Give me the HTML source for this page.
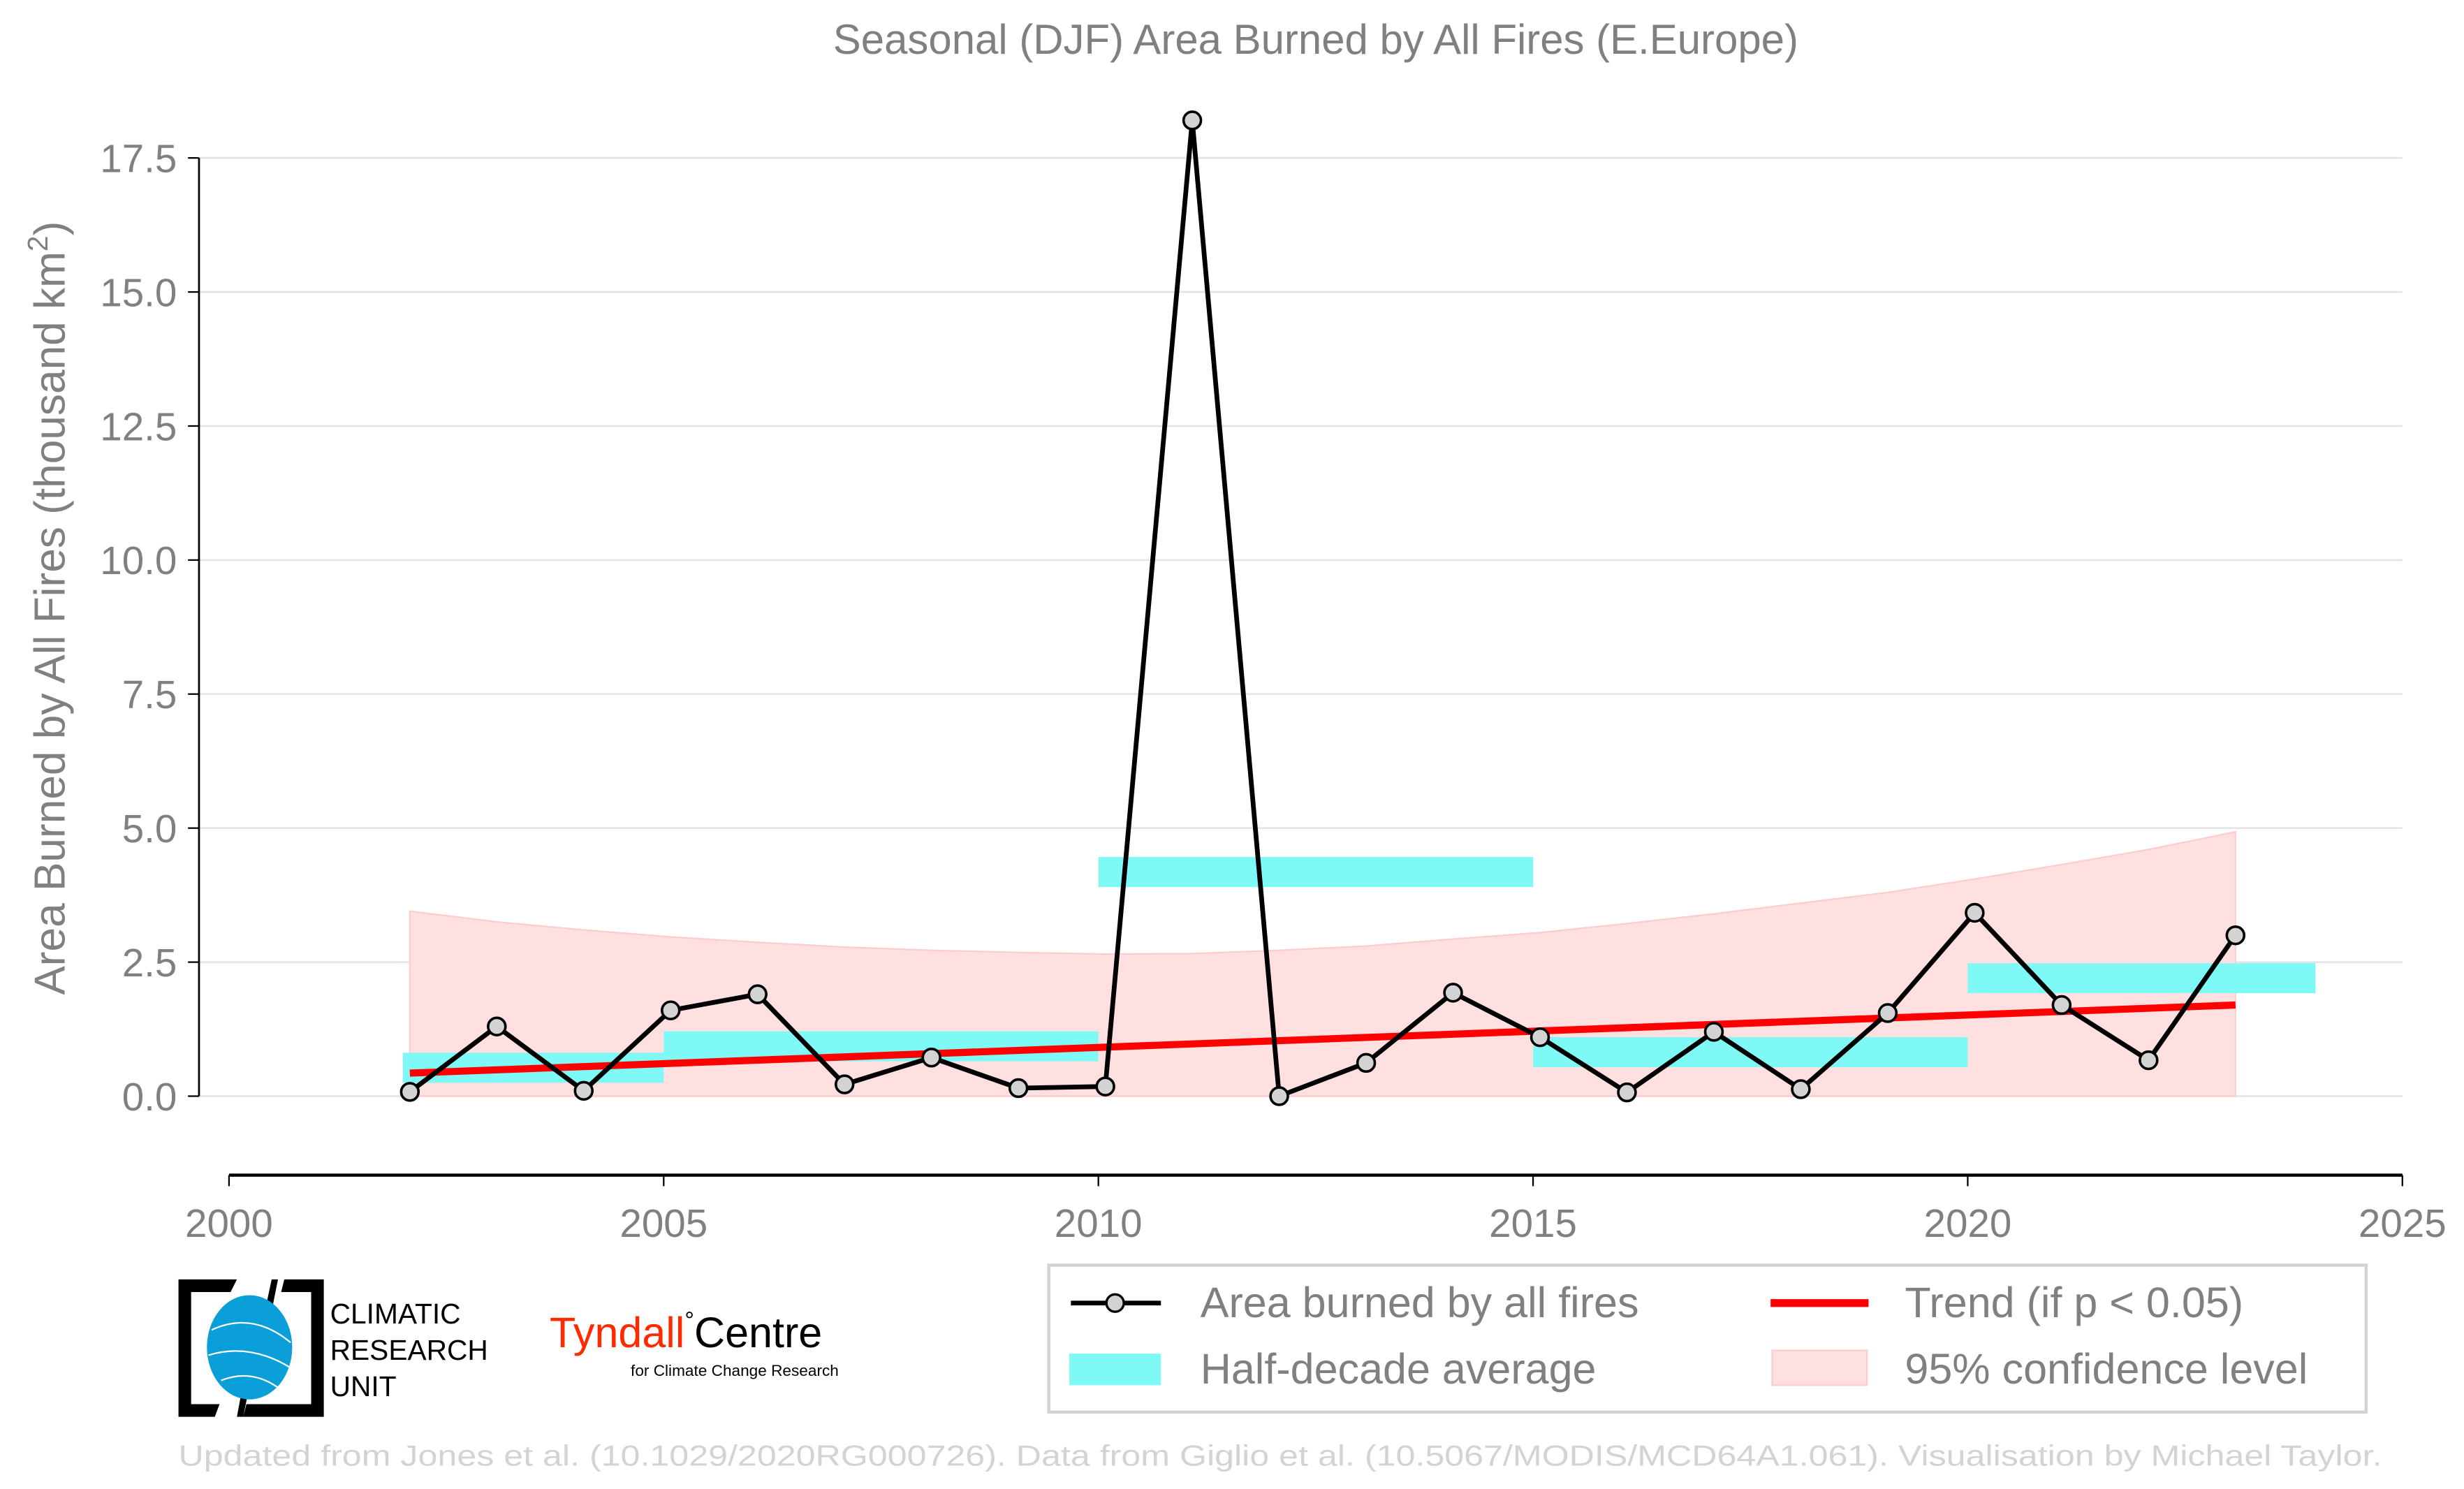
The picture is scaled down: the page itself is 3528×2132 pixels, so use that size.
<!DOCTYPE html>
<html><head><meta charset="utf-8"><style>
html,body{margin:0;padding:0;background:#fff}
svg{display:block;font-family:"Liberation Sans",Arial,sans-serif}
</style></head><body>
<svg id="chart" width="3528" height="2132" viewBox="0 0 1560 942.72" xmlns="http://www.w3.org/2000/svg">
<text x="833" y="34" font-size="26.5" fill="#808080" text-anchor="middle">Seasonal (DJF) Area Burned by All Fires (E.Europe)</text>
<g id="grid"></g>
<g id="ci"></g>
<g id="bars"></g>
<g id="trend"></g>
<g id="series"></g>
<g id="axes"></g>
<text transform="translate(41,385) rotate(-90)" font-size="27.5" fill="#808080" text-anchor="middle">Area Burned by All Fires (thousand km<tspan font-size="18" dy="-11">2</tspan><tspan dy="11">)</tspan></text>

<g>
<path d="M113 810 H150 L146 818 H121 V889 H139 L136 897 H113 Z" fill="#000"/>
<path d="M205 810 H180 L178 818 H197 V889 H156 L154 897 H205 Z" fill="#000"/>
<path d="M176 810 L170 840 L166 838 L172 810 Z M150 897 L155 870 L159 872 L154 897 Z" fill="#000"/>
<ellipse cx="158" cy="853" rx="27" ry="33" fill="#0a9fd8"/>
<path d="M134 842 Q160 830 184 850 M132 858 Q158 850 184 866 M140 874 Q160 866 178 880" stroke="#fff" stroke-width="1" fill="none"/>
<text x="209" y="838" font-size="18" fill="#000">CLIMATIC</text>
<text x="209" y="861" font-size="18" fill="#000">RESEARCH</text>
<text x="209" y="884" font-size="18" fill="#000">UNIT</text>
</g>
<g>
<text x="348" y="853" font-size="27" fill="#ff2a00">Tyndall<tspan fill="#000" font-size="15" dy="-12">°</tspan><tspan fill="#000" font-size="27" dy="12">Centre</tspan></text>
<text x="531" y="871" font-size="10" fill="#000" text-anchor="end">for Climate Change Research</text>
</g>

<g>
<rect x="664" y="801" width="834" height="93" fill="#fff" stroke="#d3d3d3" stroke-width="2"/>
<line x1="678" y1="825" x2="735" y2="825" stroke="#000" stroke-width="3"/>
<circle cx="706" cy="825" r="5.5" fill="#d3d3d3" stroke="#000" stroke-width="1.5"/>
<text x="760" y="834" font-size="27" fill="#808080">Area burned by all fires</text>
<rect x="677" y="857" width="58" height="20" fill="#7ff9f6"/>
<text x="760" y="876" font-size="27" fill="#808080">Half-decade average</text>
<line x1="1121" y1="825" x2="1183" y2="825" stroke="#ff0000" stroke-width="5"/>
<text x="1206" y="834" font-size="27" fill="#808080">Trend (if p &lt; 0.05)</text>
<rect x="1122" y="855" width="60" height="22" fill="#ffe0e0" stroke="#ffcccc"/>
<text x="1206" y="876" font-size="27" fill="#808080">95% confidence level</text>
</g>
<text x="113" y="928" font-size="18.5" fill="#d3d3d3" textLength="1395" lengthAdjust="spacingAndGlyphs">Updated from Jones et al. (10.1029/2020RG000726). Data from Giglio et al. (10.5067/MODIS/MCD64A1.061). Visualisation by Michael Taylor.</text>
</svg>
<script>
const years=[2002,2003,2004,2005,2006,2007,2008,2009,2010,2011,2012,2013,2014,2015,2016,2017,2018,2019,2020,2021,2022,2023];
const values=[0.08,1.3,0.1,1.6,1.9,0.22,0.72,0.15,0.18,18.2,0.0,0.62,1.93,1.1,0.07,1.2,0.13,1.55,3.42,1.7,0.67,3.0];
const ciUpper=[3.45,3.25,3.1,2.97,2.87,2.78,2.72,2.68,2.65,2.66,2.72,2.8,2.93,3.05,3.22,3.4,3.6,3.8,4.05,4.32,4.6,4.93];
const halfStart=[2002,2005,2010,2015,2020];
const halfEnd=[2005,2010,2015,2020,2024];
const halfMean=[0.53,0.93,4.18,0.82,2.2];
const trendStart=0.43, trendEnd=1.7;
const yTicks=[0,2.5,5,7.5,10,12.5,15,17.5];
const yTickLabels=["0.0","2.5","5.0","7.5","10.0","12.5","15.0","17.5"];
const xTicks=[2000,2005,2010,2015,2020,2025];

const NS="http://www.w3.org/2000/svg";
const X=v=>145+(v-2000)*(1521-145)/25;
const Y=v=>694-v*(694-100)/17.5;
const off=0.08;
function mk(tag,attrs,parent){const e=document.createElementNS(NS,tag);for(const k in attrs)e.setAttribute(k,attrs[k]);document.getElementById(parent).appendChild(e);return e;}

yTicks.forEach((t,i)=>{
  const g=mk('line',{x1:126,x2:1521,y1:Y(t),y2:Y(t),stroke:'#e5e5e5','stroke-width':1.2},'grid');
  
  
  const tk=mk('line',{x1:119,x2:126,y1:Y(t),y2:Y(t),stroke:'#000','stroke-width':1},'axes');
  
  
  const lb=mk('text',{x:112,y:Y(t)+9,'font-size':25,fill:'#808080','text-anchor':'end'},'axes');
  lb.textContent=yTickLabels[i];
  
  
});
const ya=mk('line',{x1:126,x2:126,y1:100,y2:694,stroke:'#000','stroke-width':1.2},'axes');


const xa=mk('line',{x1:145,x2:1521,y1:744,y2:744,stroke:'#000','stroke-width':2},'axes');


xTicks.forEach(t=>{
  const tk=mk('line',{x1:X(t),x2:X(t),y1:744,y2:751,stroke:'#000','stroke-width':1},'axes');
  
  
  const lb=mk('text',{x:X(t),y:783,'font-size':25,fill:'#808080','text-anchor':'middle'},'axes');
  lb.textContent=t;
  
  
});
let d='M'+X(years[0]+off)+','+Y(0);
years.forEach((yr,i)=>{d+=' L'+X(yr+off)+','+Y(ciUpper[i]);});
d+=' L'+X(years[years.length-1]+off)+','+Y(0)+' Z';
const band=mk('path',{d:d,fill:'#ffe0e0',stroke:'#ffcccc','stroke-width':1},'ci');


halfStart.forEach((s,i)=>{
  const r=mk('rect',{x:X(s),y:Y(halfMean[i])-9.5,width:X(halfEnd[i])-X(s),height:19,fill:'#7ff9f6'},'bars');
  
  
});
const tl=mk('line',{x1:X(years[0]+off),y1:Y(trendStart),x2:X(years[years.length-1]+off),y2:Y(trendEnd),stroke:'#ff0000','stroke-width':4.5},'trend');


const pts=years.map((yr,i)=>X(yr+off)+','+Y(values[i])).join(' ');
const pl=mk('polyline',{points:pts,fill:'none',stroke:'#000','stroke-width':3,'stroke-linejoin':'round'},'series');


years.forEach((yr,i)=>{
  const c=mk('circle',{cx:X(yr+off),cy:Y(values[i]),r:5.5,fill:'#d3d3d3',stroke:'#000','stroke-width':1.6},'series');
  
  
});
</script>
</body></html>
